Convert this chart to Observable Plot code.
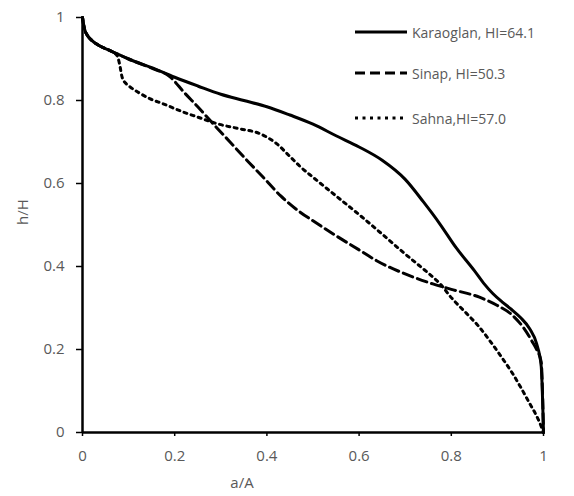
<!DOCTYPE html>
<html>
<head>
<meta charset="utf-8">
<script src="https://cdn.jsdelivr.net/npm/d3@7"></script>
<script src="https://cdn.jsdelivr.net/npm/@observablehq/plot@0.6"></script>
<style>
  html, body { margin: 0; padding: 0; background: #fff; }
  #wrap { position: relative; width: 574px; height: 496px; font-family: "Open Sans", sans-serif; }
  #wrap svg text { font-family: "Open Sans", sans-serif !important; font-size: 15px !important; }
  #legend { position: absolute; left: 355px; top: 0; }
  .row { position: absolute; left: 0; display: flex; align-items: center; white-space: nowrap; font-size: 14px; color: #595959; }
  .row svg { margin-right: 5px; }
</style>
</head>
<body>
<div id="wrap"><div id="legend"></div></div>
<script>
// ---- data ----
const seriesNames = ["Karaoglan, HI=64.1", "Sinap, HI=50.3", "Sahna,HI=57.0"];

const karaoglanX = [0, 0.002, 0.005, 0.01, 0.02, 0.04, 0.06, 0.08, 0.1, 0.15, 0.2, 0.25, 0.3, 0.35, 0.4, 0.45, 0.5, 0.55, 0.6, 0.65, 0.7, 0.74, 0.775, 0.81, 0.85, 0.87, 0.89, 0.91, 0.93, 0.95, 0.97, 0.985, 0.995, 0.998, 1];
const karaoglanY = [1, 0.985, 0.97, 0.958, 0.945, 0.93, 0.92, 0.91, 0.9, 0.879, 0.856, 0.835, 0.815, 0.8, 0.785, 0.765, 0.743, 0.715, 0.688, 0.656, 0.61, 0.555, 0.503, 0.446, 0.39, 0.36, 0.335, 0.315, 0.297, 0.277, 0.25, 0.214, 0.16, 0.08, 0];

const sinapX = [0, 0.002, 0.005, 0.01, 0.02, 0.04, 0.06, 0.08, 0.1, 0.15, 0.19, 0.22, 0.25, 0.28, 0.32, 0.36, 0.392, 0.43, 0.472, 0.5, 0.543, 0.6, 0.638, 0.7, 0.76, 0.8, 0.861, 0.9, 0.93, 0.955, 0.975, 0.985, 0.995, 1];
const sinapY = [1, 0.985, 0.97, 0.958, 0.945, 0.93, 0.92, 0.91, 0.9, 0.878, 0.857, 0.82, 0.785, 0.748, 0.7, 0.652, 0.615, 0.57, 0.531, 0.51, 0.479, 0.44, 0.414, 0.382, 0.358, 0.345, 0.326, 0.306, 0.285, 0.255, 0.22, 0.2, 0.17, 0];

const sahnaX = [0, 0.002, 0.005, 0.01, 0.02, 0.04, 0.06, 0.075, 0.08, 0.086, 0.095, 0.104, 0.125, 0.147, 0.175, 0.219, 0.25, 0.292, 0.34, 0.385, 0.421, 0.45, 0.472, 0.5, 0.55, 0.6, 0.65, 0.7, 0.75, 0.775, 0.8, 0.833, 0.86, 0.883, 0.91, 0.933, 0.95, 0.97, 0.985, 0.996, 1];
const sahnaY = [1, 0.985, 0.97, 0.958, 0.945, 0.93, 0.92, 0.908, 0.89, 0.856, 0.84, 0.832, 0.817, 0.804, 0.792, 0.772, 0.76, 0.744, 0.732, 0.72, 0.696, 0.665, 0.641, 0.615, 0.57, 0.525, 0.478, 0.43, 0.384, 0.359, 0.325, 0.287, 0.255, 0.222, 0.18, 0.142, 0.11, 0.07, 0.04, 0.012, 0];

const xTicks = [0, 0.2, 0.4, 0.6, 0.8, 1];
const yTicks = [0, 0.2, 0.4, 0.6, 0.8, 1];
const xLabel = "a/A";
const yLabel = "h/H";

// ---- styles ----
const styles = [
  {width: 3, dash: null},
  {width: 3, dash: "10,5"},
  {width: 3, dash: "3,4.5"}
];

const toRows = (xs, ys) => xs.map((x, i) => ({x, y: ys[i]}));
const rows = [toRows(karaoglanX, karaoglanY), toRows(sinapX, sinapY), toRows(sahnaX, sahnaY)];

const lineMarks = rows.map((r, i) => Plot.line(r, {
  x: "x", y: "y", stroke: "black", strokeWidth: styles[i].width,
  strokeDasharray: styles[i].dash, curve: "monotone-x"
}));

const chart = Plot.plot({
  width: 574,
  height: 496,
  marginLeft: 82,
  marginRight: 31,
  marginTop: 17,
  marginBottom: 64,
  style: {fontFamily: "'Open Sans', sans-serif", fontSize: "15px", color: "#595959", background: "white"},
  x: {domain: [0, 1]},
  y: {domain: [0, 1]},
  marks: [
    Plot.axisX({ticks: xTicks, tickFormat: d => String(d), tickSize: 4, tickPadding: 14, stroke: "black", fill: "#595959", label: null, strokeWidth: 1.5, fontSize: 15}),
    Plot.axisY({ticks: yTicks, tickFormat: d => String(d), tickSize: 6, tickPadding: 12, stroke: "black", fill: "#595959", label: null, strokeWidth: 1.5, fontSize: 15}),
    ...lineMarks,
    Plot.ruleX([0], {stroke: "black", strokeWidth: 2.5}),
    Plot.ruleY([0], {stroke: "black", strokeWidth: 2.5}),
    Plot.text([yLabel], {frameAnchor: "left", rotate: -90, dx: -59, fill: "#595959", fontSize: 15}),
    Plot.text([xLabel], {frameAnchor: "bottom", lineAnchor: "middle", dx: -71, dy: 51, fill: "#595959", fontSize: 15})
  ]
});

const wrap = document.getElementById("wrap");
wrap.insertBefore(chart, wrap.firstChild);

// ---- legend ----
const legend = document.getElementById("legend");
const rowCenters = [32, 73, 118];
seriesNames.forEach((name, i) => {
  const row = document.createElement("div");
  row.className = "row";
  row.style.top = (rowCenters[i] - 10) + "px";
  row.style.height = "20px";
  const ns = "http://www.w3.org/2000/svg";
  const svg = document.createElementNS(ns, "svg");
  svg.setAttribute("width", 52);
  svg.setAttribute("height", 20);
  const ln = document.createElementNS(ns, "line");
  ln.setAttribute("x1", 0); ln.setAttribute("x2", 52);
  ln.setAttribute("y1", 10); ln.setAttribute("y2", 10);
  ln.setAttribute("stroke", "black");
  ln.setAttribute("stroke-width", styles[i].width);
  if (styles[i].dash) ln.setAttribute("stroke-dasharray", styles[i].dash);
  svg.appendChild(ln);
  row.appendChild(svg);
  const span = document.createElement("span");
  span.textContent = name;
  row.appendChild(span);
  legend.appendChild(row);
});
</script>
</body>
</html>
